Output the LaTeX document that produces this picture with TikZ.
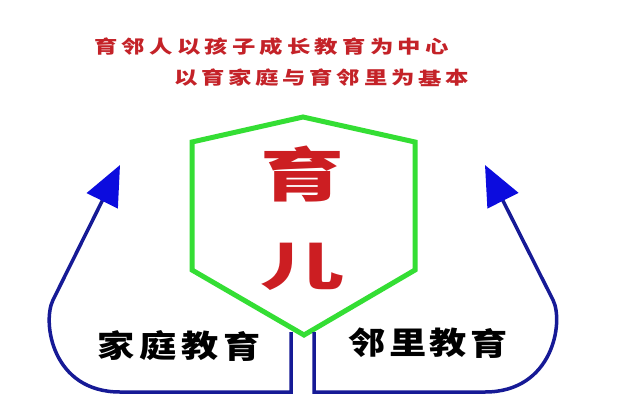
\documentclass[tikz,border=0pt]{standalone}
\usepackage{fontspec}
\newfontfamily\cjk{Noto Sans CJK SC}
\usetikzlibrary{arrows.meta}
\definecolor{hexgreen}{RGB}{52,222,52}
\definecolor{navy}{RGB}{22,26,150}
\definecolor{tipblue}{RGB}{12,12,222}
\definecolor{titlered}{RGB}{196,34,40}
\definecolor{bigred}{RGB}{204,30,34}
\begin{document}
\begin{tikzpicture}[x=1pt,y=-1pt,
  titlechar/.style={inner sep=0pt,text=titlered,font=\cjk\bfseries\fontsize{18pt}{18pt}\selectfont},
  bigchar/.style={inner sep=0pt,text=bigred,font=\cjk\bfseries\fontsize{58pt}{58pt}\selectfont},
  labelchar/.style={inner sep=0pt,text=black,font=\cjk\bfseries\fontsize{31pt}{31pt}\selectfont},
  hexline/.style={draw=hexgreen,line width=5pt,line join=miter},
  flow/.style={draw=navy,line width=3.5pt,line join=miter},
  uptip/.style={-{Triangle[length=40pt,width=34pt,color=tipblue]}}]
\useasboundingbox (0,0) rectangle (622,416);
\fill[white] (0,0) rectangle (622,416);

% title lines
\foreach \c [count=\i from 0] in {育,邻,人,以,孩,子,成,长,教,育,为,中,心}
  \node[titlechar] (ta\i) at ({106+27.58*\i},47) {\scalebox{1.3}[1]{\c}};
\foreach \c [count=\i from 0] in {以,育,家,庭,与,育,邻,里,为,基,本}
  \node[titlechar] (tb\i) at ({186+27.1*\i},78) {\scalebox{1.3}[1]{\c}};

% hexagon
\coordinate (h1) at (303,117);
\coordinate (h2) at (415,142);
\coordinate (h3) at (415,270);
\coordinate (h4) at (304,335);
\coordinate (h5) at (192,270);
\coordinate (h6) at (192,142);
\draw[hexline] (h1) -- (h2) -- (h3) -- (h4) -- (h5) -- (h6) -- cycle;

\node[bigchar] (yu) at (303,174) {\scalebox{1.45}[1]{育}};
\node[bigchar] (er) at (303,267) {\scalebox{1.45}[0.9]{儿}};

% left flow
\coordinate (l0) at (291,332);
\coordinate (l1) at (291,392);
\coordinate (l2) at (120,392);
\coordinate (l3) at (53,300);
\coordinate (ltip) at (120,165);
\draw[flow,uptip] (l0) -- (l1) -- (l2) .. controls (52,392) and (42,322) .. (l3) -- (ltip);

% right flow
\coordinate (r0) at (314,332);
\coordinate (r1) at (314,392);
\coordinate (r2) at (485,392);
\coordinate (r3) at (553,300);
\coordinate (rtip) at (485,165);
\draw[flow,uptip] (r0) -- (r1) -- (r2) .. controls (553,392) and (564,322) .. (r3) -- (rtip);

% labels
\foreach \c [count=\i from 0] in {家,庭,教,育}
  \node[labelchar] (la\i) at ({116+42*\i},346) {\scalebox{1.2}[1]{\c}};
\foreach \c [count=\i from 0] in {邻,里,教,育}
  \node[labelchar] (lb\i) at ({367+40.7*\i},343) {\scalebox{1.2}[1]{\c}};
\end{tikzpicture}
\end{document}
